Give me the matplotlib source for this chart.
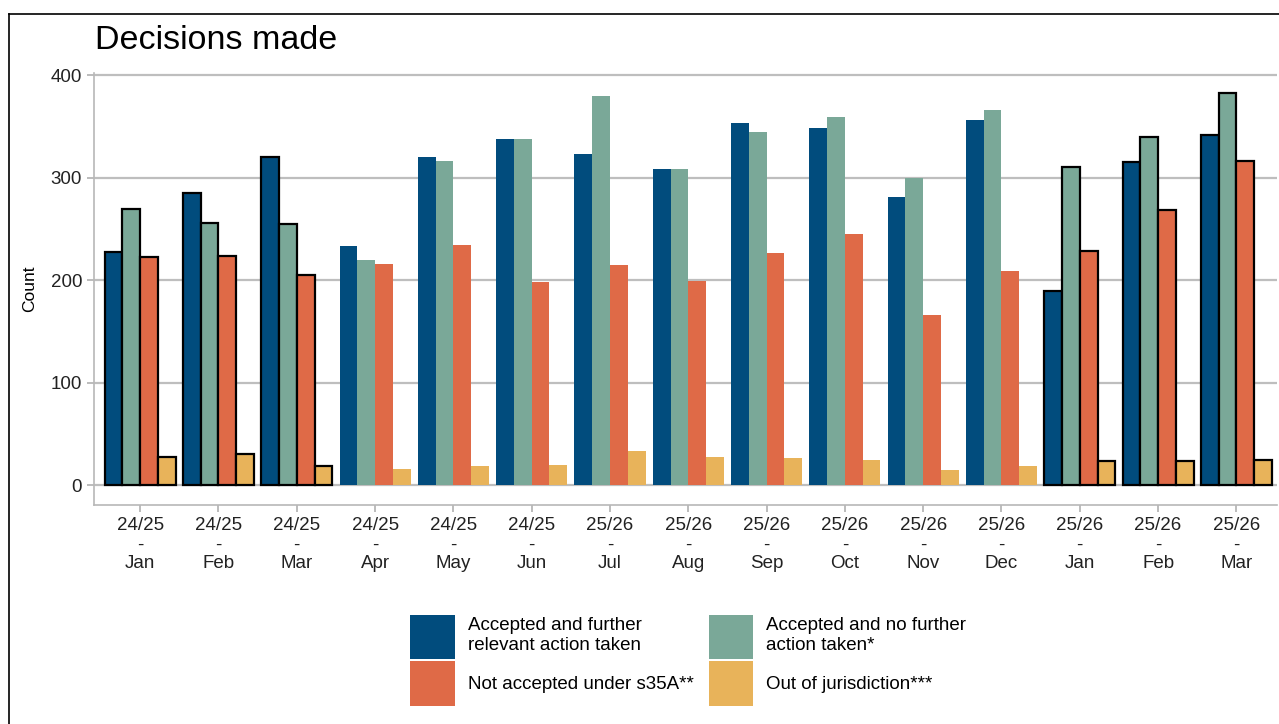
import matplotlib
matplotlib.use("Agg")
import matplotlib.pyplot as plt
from matplotlib.patches import Patch
from matplotlib.lines import Line2D
import numpy as np

plt.rcParams['font.family'] = ['Liberation Sans', 'DejaVu Sans']

years = ["24/25"] * 6 + ["25/26"] * 9
months = ["Jan", "Feb", "Mar", "Apr", "May", "Jun", "Jul", "Aug", "Sep",
          "Oct", "Nov", "Dec", "Jan", "Feb", "Mar"]

further_action = [227, 285, 320, 233, 320, 338, 323, 308, 353, 348, 281, 356, 189, 315, 342]
no_further_action = [269, 256, 255, 220, 316, 338, 380, 308, 345, 359, 300, 366, 310, 340, 383]
not_accepted = [223, 224, 205, 216, 234, 198, 215, 199, 226, 245, 166, 209, 228, 268, 316]
out_of_jurisdiction = [27, 30, 19, 16, 19, 20, 33, 27, 26, 24, 15, 19, 23, 23, 24]

# months drawn with a black outline
outlined = [True, True, True] + [False] * 9 + [True, True, True]

series = [
    ("Accepted and further\nrelevant action taken", further_action, "#014C7D"),
    ("Accepted and no further\naction taken*", no_further_action, "#7AA898"),
    ("Not accepted under s35A**", not_accepted, "#DF6A47"),
    ("Out of jurisdiction***", out_of_jurisdiction, "#E8B35A"),
]

fig = plt.figure(figsize=(12.79, 7.24), dpi=100)
ax = fig.add_axes([0.0735, 0.3025, 0.925, 0.5965])

x = np.arange(len(months))
w = 0.227
for i, (label, vals, col) in enumerate(series):
    pos = x + (i - 1.5) * w
    for j in range(len(months)):
        if outlined[j]:
            ax.bar(pos[j], vals[j], w, color=col, edgecolor="black", linewidth=1.6, zorder=3)
        else:
            ax.bar(pos[j], vals[j], w, color=col, edgecolor="none", zorder=3)

ax.set_xlim(-0.59, 14.52)
ax.set_ylim(-19.5, 402)
ax.set_yticks([0, 100, 200, 300, 400])
ax.set_xticks(x)
ax.set_xticklabels(["%s\n-\n%s" % (y, m) for y, m in zip(years, months)], linespacing=1.15)
ax.tick_params(axis="both", labelsize=13.5, colors="#B0B0B0", labelcolor="#222222", length=5, width=1.2)
ax.tick_params(axis="x", pad=4)
ax.yaxis.grid(True, color="#BEBEBE", linewidth=1.6, zorder=0)
ax.set_axisbelow(True)
for s in ["top", "right"]:
    ax.spines[s].set_visible(False)
for s in ["left", "bottom"]:
    ax.spines[s].set_color("#B8B8B8")
    ax.spines[s].set_linewidth(1.2)
ax.set_ylabel("Count", fontsize=12.5, labelpad=10)

fig.text(0.074, 0.944, "Decisions made", fontsize=24.5, va="center", ha="left")

# legend fills column-wise, so reorder to get two rows of two
order = [0, 2, 1, 3]
handles = [Patch(facecolor=series[k][2], edgecolor="none") for k in order]
labels = [series[k][0] for k in order]
fig.legend(handles, labels, loc="center", bbox_to_anchor=(0.538, 0.088), ncol=2,
           frameon=False, fontsize=13.5, handlelength=2.35, handleheight=3.3,
           handletextpad=0.7, labelspacing=0.1, columnspacing=0.8)

# frame around the figure (top and left edges visible)
fig.add_artist(Line2D([0.007, 1.0], [0.981, 0.981], color="black", linewidth=1.2))
fig.add_artist(Line2D([0.007, 0.007], [0.0, 0.981], color="black", linewidth=1.2))

fig.savefig("out.png", dpi=100)
